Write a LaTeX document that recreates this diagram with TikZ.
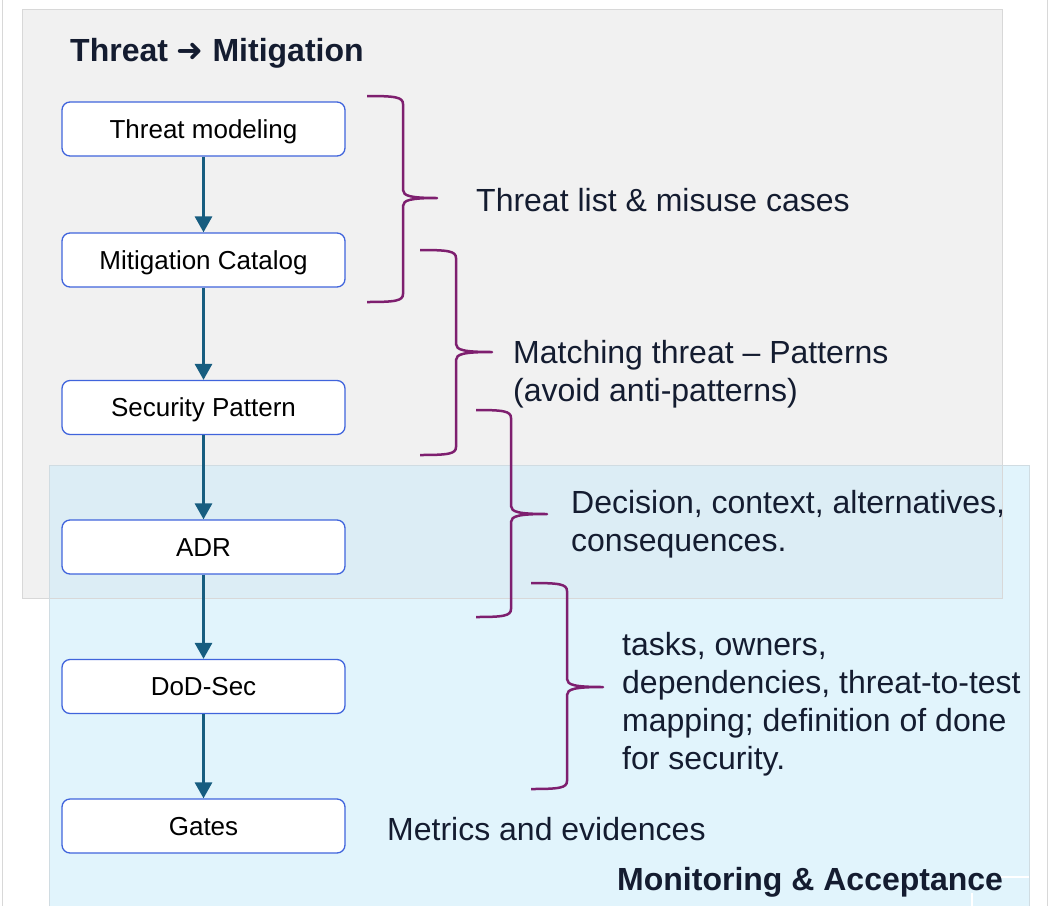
\documentclass[tikz,border=0pt]{standalone}
\usepackage{fontspec}
\setmainfont{Liberation Sans}
\newfontfamily\symfont{DejaVu Sans}
\usetikzlibrary{arrows.meta}

\definecolor{panelgray}{RGB}{241,241,241}
\definecolor{panelgrayline}{RGB}{216,216,216}
\definecolor{panelblue}{RGB}{225,244,252}
\definecolor{panelblueline}{RGB}{208,220,226}
\definecolor{overlapblue}{RGB}{220,237,245}
\definecolor{boxline}{RGB}{64,100,220}
\definecolor{flowblue}{RGB}{23,93,128}
\definecolor{bracepurple}{RGB}{126,31,111}
\definecolor{navy}{RGB}{20,28,48}

\tikzset{
  stepbox/.style={draw=boxline, line width=1.3pt, fill=white, rounded corners=8pt,
    minimum width=283pt, minimum height=54pt, inner sep=0pt,
    text height=18.6pt, text depth=0pt, font=\fontsize{26}{30}\selectfont, text=black},
  flow/.style={draw=flowblue, line width=3pt,
    -{Triangle[width=17pt,length=16pt]}, shorten >=0pt},
  brace/.style={draw=bracepurple, line width=2.5pt, line join=round},
  note/.style={anchor=base west, inner sep=0pt, text=navy,
    font=\fontsize{32}{38}\selectfont},
  heading/.style={anchor=base west, inner sep=0pt, text=navy,
    font=\fontsize{32}{38}\selectfont\bfseries},
}

% right-hand curly brace: left end x, bar x, tip x, top y, tip y, bottom y
\newcommand\purplebrace[6]{%
  \draw[brace] (#1,#4) .. controls (#2-8,#4) and (#2,#4+1) .. (#2,#4+8)
    -- (#2,#5-8) .. controls (#2,#5-2) and (#2+8,#5) .. (#3,#5)
    .. controls (#2+8,#5) and (#2,#5+2) .. (#2,#5+8)
    -- (#2,#6-8) .. controls (#2,#6-1) and (#2-8,#6) .. (#1,#6);}

\begin{document}
\begin{tikzpicture}[x=1pt,y=-1pt]
\useasboundingbox (0,0) rectangle (1053,906);
\fill[white] (0,0) rectangle (1053,906);

% slide edges
\draw[panelgrayline, line width=1pt] (2,0) -- (2,906);
\draw[panelgrayline, line width=1pt] (1047,0) -- (1047,906);

% panels
\fill[panelgray] (22,9) rectangle (1002,598);
\fill[panelblue] (49,465) rectangle (1029,906);
\fill[overlapblue] (49,465) rectangle (1002,598);
\draw[panelgrayline, line width=1pt] (22,9) rectangle (1002,598);
\draw[panelblueline, line width=1pt] (49,906) -- (49,465) -- (1029,465) -- (1029,906);

% white guide marks near the lower right corner
\draw[white, line width=1.5pt] (998,877) -- (1029,877);
\draw[white, line width=1.5pt] (972,893) -- (972,906);

% headings
\node[heading] (title) at (70,61) {Threat {\symfont\bfseries ➜} Mitigation};
\node[heading] (monitor) at (617,890) {Monitoring \& Acceptance};

% process steps
\node[stepbox] (tm)  at (203.5,129)   {Threat modeling};
\node[stepbox] (mc)  at (203.5,260)   {Mitigation Catalog};
\node[stepbox] (sp)  at (203.5,407.5) {Security Pattern};
\node[stepbox] (adr) at (203.5,547)   {ADR};
\node[stepbox] (dod) at (203.5,686.5) {DoD-Sec};
\node[stepbox] (gt)  at (203.5,826)   {Gates};

\draw[flow] (tm)  -- (mc);
\draw[flow] (mc)  -- (sp);
\draw[flow] (sp)  -- (adr);
\draw[flow] (adr) -- (dod);
\draw[flow] (dod) -- (gt);

% braces grouping consecutive steps
\purplebrace{367}{403}{437}{96}{198}{302}
\purplebrace{420}{456}{492}{250}{352}{455}
\purplebrace{476}{511}{547}{410}{514}{617}
\purplebrace{531}{567}{603}{583}{687}{789}

% annotations
\node[note] (n1) at (476,211) {Threat list \& misuse cases};
\node[note] (n2a) at (513,363) {Matching threat – Patterns};
\node[note] (n2b) at (513,401) {(avoid anti-patterns)};
\node[note] (n3a) at (571,513) {Decision, context, alternatives,};
\node[note] (n3b) at (571,551) {consequences.};
\node[note] (n4a) at (622,655) {tasks, owners,};
\node[note] (n4b) at (622,693) {dependencies, threat-to-test};
\node[note] (n4c) at (622,731) {mapping; definition of done};
\node[note] (n4d) at (622,769) {for security.};
\node[note] (n5) at (387,840) {Metrics and evidences};
\end{tikzpicture}
\end{document}
